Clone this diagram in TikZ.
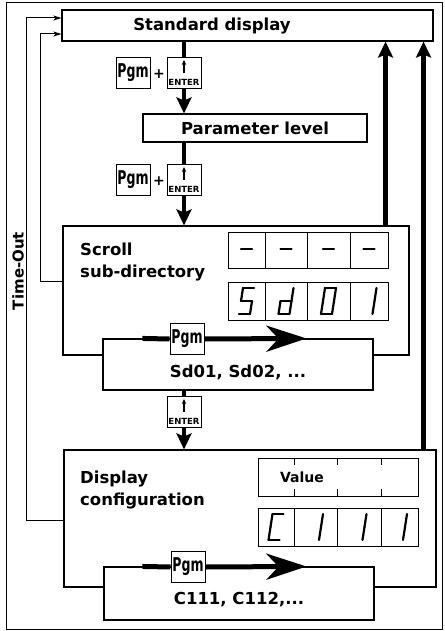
\documentclass[tikz,border=0pt]{standalone}
\usepackage{fontspec}
\setmainfont{DejaVu Sans}
\usetikzlibrary{arrows.meta}

\tikzset{
  box/.style={draw, line width=1.1pt, fill=white, inner sep=0pt},
  keybox/.style={draw, line width=1pt, fill=white, inner sep=0pt, minimum width=34pt, minimum height=31pt},
  lbl/.style={font=\fontsize{16.5}{22}\selectfont\bfseries, inner sep=0pt},
  pgmtext/.style={font=\fontsize{19}{19}\selectfont\bfseries},
  entertext/.style={font=\fontsize{8.5}{8.5}\selectfont\bfseries, inner sep=0pt},
  backline/.style={line width=1pt, -{Stealth[length=8pt,width=5pt,inset=2pt]}},
  flow/.style={line width=4.5pt, -{Stealth[length=16pt,width=15pt,inset=3pt]}},
  scrollarrow/.style={line width=5pt, -{Stealth[length=40pt,width=26pt,inset=12pt]}},
  dispbox/.style={line width=1pt},
  segline/.style={line width=2.2pt, line cap=round},
  digit/.pic={
    \coordinate (a1) at (4,-26); \coordinate (a2) at (15,-26);
    \coordinate (b1) at (15,-26); \coordinate (b2) at (13,-13);
    \coordinate (c1) at (13,-13); \coordinate (c2) at (11,0);
    \coordinate (d1) at (0,0); \coordinate (d2) at (11,0);
    \coordinate (e1) at (0,0); \coordinate (e2) at (2,-13);
    \coordinate (f1) at (2,-13); \coordinate (f2) at (4,-26);
    \coordinate (g1) at (2,-13); \coordinate (g2) at (13,-13);
    \foreach \s in {#1} {\draw[segline] (\s1) -- (\s2);}
  }
}

\newcommand{\pgmkey}{\scalebox{0.66}[1]{Pgm}}

\begin{document}
\begin{tikzpicture}[x=1pt, y=-1pt]
\useasboundingbox (0,0) rectangle (444,631);

% outer frame
\draw[line width=1pt] (6,3) rectangle (442,629);

% main boxes
\node[box, minimum width=371pt, minimum height=31pt] (std) at (247.5,25.5) {};
\node[lbl] (stdtext) at (212,26) {Standard display};
\node[box, lbl, draw, fill=white, minimum width=224pt, minimum height=28pt] (param) at (255,128) {Parameter level};

\node[box, minimum width=346pt, minimum height=129pt] (scroll) at (236,290.5) {};
\node[lbl, align=left, anchor=north west] (scrolltext) at (80,243) {Scroll\\sub-directory};
\node[box, minimum width=270pt, minimum height=51pt] (sdlist) at (238,364.5) {};
\node[lbl] (sdtext) at (238,372) {Sd01, Sd02, ...};

\node[box, minimum width=372pt, minimum height=137pt] (config) at (250,518.5) {};
\node[lbl, align=left, anchor=north west] (configtext) at (80,471) {Display\\configuration};
\node[box, minimum width=270pt, minimum height=53pt] (clist) at (239,593.5) {};
\node[lbl] (ctext) at (239,600) {C111, C112,...};

% keys
\node[keybox, pgmtext] (pgmA) at (133,73) {\pgmkey};
\node[font=\fontsize{14}{14}\selectfont\bfseries] (plusA) at (159,74) {+};
\node[keybox] (enterA) at (184,73) {};
\node[keybox, pgmtext] (pgmB) at (133,180) {\pgmkey};
\node[font=\fontsize{14}{14}\selectfont\bfseries] (plusB) at (159,181) {+};
\node[keybox] (enterB) at (184,180) {};
\node[keybox] (enterC) at (184,412) {};
\node[keybox, pgmtext] (pgmC) at (187,339) {\pgmkey};
\node[keybox, pgmtext] (pgmD) at (188,567) {\pgmkey};

% enter key labels
\foreach \k in {enterA,enterB,enterC} {
  \draw[line width=1.3pt, -{Stealth[length=5pt,width=4.5pt]}] ([yshift=-16pt]\k.north) -- ([yshift=-3pt]\k.north);
  \node[entertext, anchor=south] (\k-text) at ([yshift=3pt]\k.south) {ENTER};
}

% flow down through the keys
\draw[line width=4.5pt] (enterA |- std.south) -- (enterA.north);
\draw[flow] (enterA.south) -- (enterA |- param.north);
\draw[line width=4.5pt] (enterB |- param.south) -- (enterB.north);
\draw[flow] (enterB.south) -- (enterB |- scroll.north);
\draw[line width=4.5pt] (enterC |- sdlist.south) -- (enterC.north);
\draw[flow] (enterC.south) -- (enterC |- config.north);

% scroll with Pgm
\draw[line width=5pt] ([xshift=40pt]sdlist.north west) -- (pgmC.west);
\draw[scrollarrow] (pgmC.east) -- ([xshift=204pt]sdlist.north west);
\draw[line width=5pt] ([xshift=39pt]clist.north west) -- (pgmD.west);
\draw[scrollarrow] (pgmD.east) -- ([xshift=203pt]clist.north west);

% back to standard display
\draw[flow] ([xshift=-24pt]scroll.north east) -- ([xshift=-24pt]scroll.north east |- std.south);
\draw[flow] ([xshift=-13pt]config.north east) -- ([xshift=-13pt]config.north east |- std.south);

% time-out lines
\draw[backline] ([yshift=-56pt]scroll.north west) -| ([xshift=-21pt,yshift=-8.5pt]std.west) -- ([yshift=-8.5pt]std.west);
\draw[backline] ([yshift=-71pt]config.north west) -| ([xshift=-35pt,yshift=7.5pt]std.west) -- ([yshift=7.5pt]std.west);
\node[lbl, font=\fontsize{15}{15}\selectfont\bfseries, rotate=90] (timeout) at (18,271) {Time-Out};

% displays
\draw[dispbox] (228,232) rectangle (388,268);
\draw[dispbox] (228,282) rectangle (388,320);
\foreach \x in {265,307,350} {
  \draw[dispbox] (\x,232) -- (\x,268);
  \draw[dispbox] (\x,282) -- (\x,320);
}
\foreach \x in {239,278.5,321,361.5}
  \pic[line width=3pt] at (\x,262) {digit={g}};
\pic at (239,314) {digit={a,f,g,c,d}};
\pic at (278.5,314) {digit={b,c,d,e,g}};
\pic at (321,314) {digit={a,b,c,d,e,f}};
\pic at (361.5,314) {digit={b,c}};

\draw[dispbox] (258,458) rectangle (418,496);
\draw[dispbox] (258,508) rectangle (418,546);
\foreach \x in {294,337,381} {
  \draw[dispbox] (\x,458) -- (\x,465);
  \draw[dispbox] (\x,489) -- (\x,496);
  \draw[dispbox] (\x,508) -- (\x,546);
}
\node[lbl, font=\fontsize{14}{14}\selectfont\bfseries] (value) at (302,477) {Value};
\pic at (268.5,540) {digit={a,f,e,d}};
\pic at (308,540) {digit={b,c}};
\pic at (351.5,540) {digit={b,c}};
\pic at (392,540) {digit={b,c}};

\end{tikzpicture}
\end{document}
